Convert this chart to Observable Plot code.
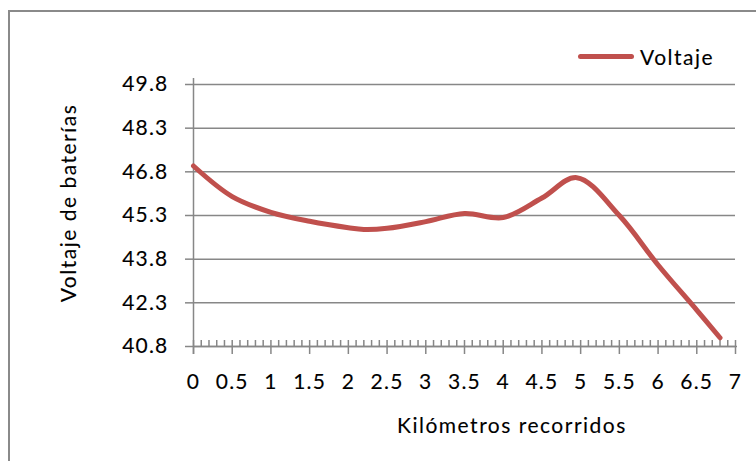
<!DOCTYPE html>
<html>
<head>
<meta charset="utf-8">
<script src="https://cdn.jsdelivr.net/npm/d3@7"></script>
<script src="https://cdn.jsdelivr.net/npm/@observablehq/plot@0.6"></script>
<style>
  body { margin: 0; background: #fff; font-family: Lato, sans-serif; }
  #wrap { position: relative; width: 756px; height: 461px; overflow: hidden; background: #fff; }
  #frame { position: absolute; left: 8px; top: 10px; width: 820px; height: 520px;
           border: 2px solid #8a8a8a; box-sizing: border-box; }
  #chart { position: absolute; left: 0; top: 0; }
  #chart svg text { stroke: #000; stroke-width: 0.12px; }
  .title, #legend { font-size: 21px; letter-spacing: 1.5px; color: #000; -webkit-text-stroke: 0.12px #000; }
  .title { position: absolute; white-space: nowrap; }
  #xtitle { left: 397px; top: 414px; line-height: 21px; }
  #ytitle { left: -52px; top: 191px; width: 240px; line-height: 24px; text-align: center; transform: rotate(-90deg); }
  #legend { position: absolute; left: 578px; top: 44px; display: flex; align-items: center; }
  #legend .swatch { width: 56px; height: 5px; border-radius: 3px; background: #C0504D; margin-right: 6px; }
</style>
</head>
<body>
<div id="wrap">
  <div id="frame"></div>
  <div id="chart"></div>
  <div class="title" id="ytitle">Voltaje de baterías</div>
  <div class="title" id="xtitle">Kilómetros recorridos</div>
  <div id="legend"><span class="swatch"></span><span>Voltaje</span></div>
</div>
<script>
// Battery voltage measured along the distance travelled
const km      = [0, 0.5, 1, 1.5, 2, 2.2, 2.5, 3, 3.5, 4, 4.5, 4.95, 5.5, 6, 6.5, 6.8];
const voltaje = [47.0, 45.95, 45.41, 45.1, 44.88, 44.82, 44.86, 45.09, 45.37, 45.23, 45.9, 46.6, 45.3, 43.6, 42.05, 41.1];

// Axis ticks
const yTicks     = [40.8, 42.3, 43.8, 45.3, 46.8, 48.3, 49.8];
const xMajor     = [0, 0.5, 1, 1.5, 2, 2.5, 3, 3.5, 4, 4.5, 5, 5.5, 6, 6.5, 7];
const xMinor     = d3.range(0, 71).map(i => i / 10);

const rows = km.map((k, i) => ({km: k, v: voltaje[i]}));
const gray = "#878787";

const chart = Plot.plot({
  width: 756,
  height: 461,
  marginLeft: 193,
  marginRight: 21,
  marginTop: 84,
  marginBottom: 115,
  x: {domain: [0, 7]},
  y: {domain: [40.8, 49.8]},
  style: {fontFamily: "Lato, sans-serif", fontSize: "21px", color: "#000", background: "transparent", letterSpacing: "1.2px"},
  marks: [
    Plot.gridY(yTicks, {stroke: gray, strokeOpacity: 1, strokeWidth: 1.5}),
    Plot.axisY(yTicks, {tickSize: 8, tickPadding: 17, tickFormat: d => d.toFixed(1), stroke: gray, strokeWidth: 1.5, label: null}),
    Plot.ruleX([0], {stroke: gray, strokeWidth: 1.5, insetTop: -6, insetBottom: -8}),
    Plot.ruleY([40.8], {stroke: gray, strokeWidth: 1.5, insetRight: -2}),
    Plot.tickX(xMinor, {stroke: gray, strokeWidth: 1.5, insetTop: 256}),
    Plot.axisX(xMajor, {tickSize: 8, tickPadding: 20, tickFormat: d => String(d), stroke: gray, strokeWidth: 1.5, label: null}),
    Plot.line(rows, {x: "km", y: "v", stroke: "#C0504D", strokeWidth: 5, curve: "catmull-rom"})
  ]
});
document.getElementById("chart").appendChild(chart);
</script>
</body>
</html>
